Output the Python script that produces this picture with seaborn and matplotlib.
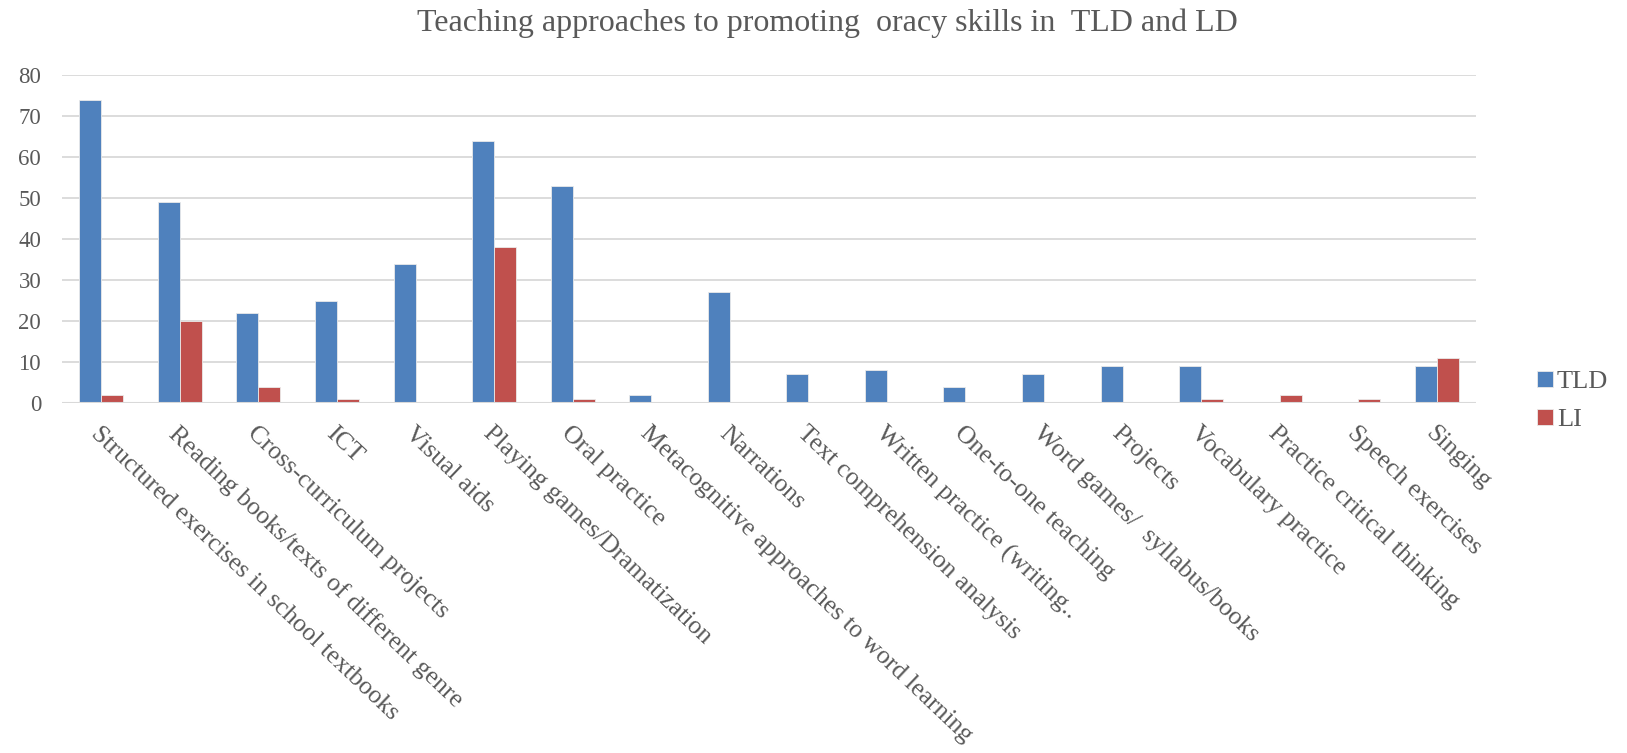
import matplotlib
matplotlib.use("Agg")
import matplotlib.pyplot as plt
import seaborn as sns
import pandas as pd
from matplotlib.patches import Patch

categories = [
    "Structured exercises in school textbooks",
    "Reading books/texts of different genre",
    "Cross-curriculum projects",
    "ICT",
    "Visual aids",
    "Playing games/Dramatization",
    "Oral practice",
    "Metacognitive approaches to word learning",
    "Narrations",
    "Text comprehension analysis",
    "Written practice (writing..",
    "One-to-one teaching",
    "Word games/  syllabus/books",
    "Projects",
    "Vocabulary practice",
    "Practice critical thinking",
    "Speech exercises",
    "Singing",
]
tld_values = [74, 49, 22, 25, 34, 64, 53, 2, 27, 7, 8, 4, 7, 9, 9, 0, 0, 9]
li_values = [2, 20, 4, 1, 0, 38, 1, 0, 0, 0, 0, 0, 0, 0, 1, 2, 1, 11]
series_names = ["TLD", "LI"]
palette = ["#4F81BD", "#C0504D"]

df = pd.DataFrame({
    "category": categories * 2,
    "value": tld_values + li_values,
    "series": [series_names[0]] * len(categories) + [series_names[1]] * len(categories),
})

sns.set_theme(style="white")
plt.rcParams["font.family"] = ["Liberation Serif", "DejaVu Serif"]
text_color = "#595959"

fig = plt.figure(figsize=(16.27, 7.53), dpi=100)
ax = fig.add_axes([62 / 1627, 1 - 403 / 753, (1476 - 62) / 1627, (403 - 75) / 753])

sns.barplot(data=df, x="category", y="value", hue="series", hue_order=series_names,
            order=categories, palette=palette, width=0.56, saturation=1,
            edgecolor="#EAEAEA", linewidth=0.6, ax=ax, legend=False, zorder=3)

ax.set_ylim(0, 80)
ax.set_xlim(-0.5, len(categories) - 0.5)
ax.set_yticks(range(0, 81, 10))
ax.yaxis.grid(True, color="#D9D9D9", linewidth=1.3, zorder=0)
ax.set_axisbelow(True)
for s in ax.spines.values():
    s.set_visible(False)
ax.axhline(0, color="#D9D9D9", linewidth=1.5, zorder=4)
ax.set_xlabel("")
ax.set_ylabel("")
ax.tick_params(axis="both", length=0, colors=text_color)
ax.tick_params(axis="y", labelsize=16.5, pad=15)
ax.set_xticks(range(len(categories)))
ax.set_xticklabels(categories, rotation=-43.5, ha="left", va="top",
                   rotation_mode="anchor", fontsize=18.5, color=text_color)
ax.tick_params(axis="x", pad=14)

fig.text(827 / 1627, 1 - 23 / 753, "Teaching approaches to promoting  oracy skills in  TLD and LD",
         ha="center", va="center", fontsize=23, color=text_color)

handles = [Patch(facecolor=c, edgecolor="#EAEAEA", linewidth=0.6) for c in palette]
fig.legend(handles, series_names, loc="center left", bbox_to_anchor=(1537 / 1627, 1 - 401 / 753),
           frameon=False, fontsize=19, labelcolor=text_color, handlelength=0.6,
           handleheight=0.55, handletextpad=0.15, labelspacing=0.6,
           borderpad=0, borderaxespad=0)

fig.savefig("out.png", dpi=100)
